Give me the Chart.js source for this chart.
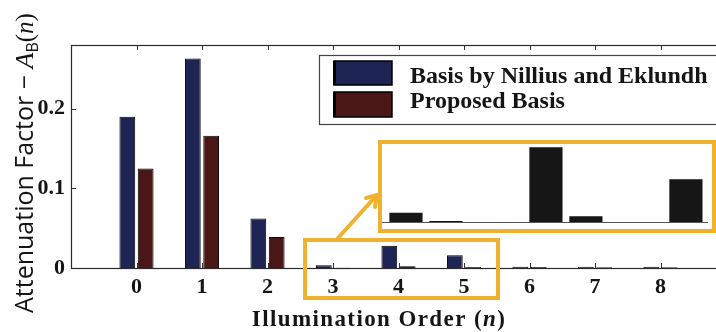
<!DOCTYPE html>
<html><head><meta charset="utf-8">
<script src="https://cdn.jsdelivr.net/npm/chart.js@4/dist/chart.umd.min.js"></script>
<style>
html,body{margin:0;padding:0;background:#fff;overflow:hidden;width:716px;height:332px;}
#wrap{position:relative;width:716px;height:332px;overflow:hidden;background:#fff;}
#main{position:absolute;left:0;top:0;}
#inset{position:absolute;left:378px;top:140px;}
</style></head><body>
<div id="wrap">
<canvas id="main" width="740" height="332"></canvas>
<canvas id="inset" width="338" height="94"></canvas>
</div>
<script>
// ---- data ----
const categories = [0, 1, 2, 3, 4, 5, 6, 7, 8];
const nilliusEklundh = [0.190, 0.263, 0.062, 0.0035, 0.028, 0.016, 0.0015, 0.0015, 0.0015];
const proposedBasis  = [0.125, 0.166, 0.039, 0.0004, 0.0022, 0.0012, 0.0012, 0.0010, 0.0010];
const yTicks = [0, 0.1, 0.2];
const seriesNames = ['Basis by Nillius and Eklundh', 'Proposed Basis'];
const zoomCategories = [3, 4, 5];

const BLUE = '#1e2555', RED = '#4a1616', YELLOW = '#efb22e', INK = '#151515';
const SERIF = '"Liberation Serif", "Times New Roman", serif';

function pts(vals){ return categories.map((c,i)=>({x:c, y:vals[i]})); }

const framePlugin = {
  id:'frame',
  beforeDatasetsDraw(chart){
    const {ctx, chartArea:a, scales:{x,y}} = chart;
    ctx.save();
    ctx.strokeStyle = '#333'; ctx.lineWidth = 1;
    ctx.beginPath();
    categories.forEach(c=>{
      const px = Math.round(x.getPixelForValue(c))+0.5;
      ctx.moveTo(px, a.bottom); ctx.lineTo(px, a.bottom-5);
      ctx.moveTo(px, a.top); ctx.lineTo(px, a.top+5);
    });
    yTicks.forEach(v=>{
      const py = Math.round(y.getPixelForValue(v))+0.5;
      ctx.moveTo(a.left, py); ctx.lineTo(a.left+5, py);
    });
    ctx.stroke();
    ctx.restore();
  },
  afterDatasetsDraw(chart){
    const {ctx, chartArea:a} = chart;
    ctx.save();
    ctx.strokeStyle = '#2a2a2a'; ctx.lineWidth = 1.2;
    ctx.strokeRect(Math.round(a.left)+0.5, Math.round(a.top)+0.5, Math.round(a.right-a.left), Math.round(a.bottom-a.top));
    ctx.restore();
  }
};

const overlayPlugin = {
  id:'overlay',
  afterDraw(chart){
    const {ctx} = chart;
    const ds = chart.data.datasets;
    ctx.save();
    // legend
    ctx.fillStyle = '#fff';
    ctx.fillRect(320, 56, 420, 68);
    ctx.strokeStyle = '#444'; ctx.lineWidth = 1.2;
    ctx.strokeRect(319.5, 55.5, 420, 69);
    const rows = [{y:61, h:24, base:83}, {y:92, h:25, base:108}];
    rows.forEach((r,i)=>{
      ctx.fillStyle = ds[i].backgroundColor;
      ctx.fillRect(334, r.y, 58, r.h);
      ctx.strokeStyle = '#000'; ctx.lineWidth = 1.5;
      ctx.strokeRect(334, r.y, 58, r.h);
      ctx.fillStyle = '#000'; ctx.fillRect(333, r.y, 3, r.h);
      ctx.fillStyle = INK;
      ctx.font = 'bold 24px ' + SERIF;
      ctx.textAlign = 'left'; ctx.textBaseline = 'alphabetic';
      ctx.fillText(ds[i].label, 410, r.base);
    });
    // small zoom box
    ctx.strokeStyle = YELLOW; ctx.lineWidth = 4;
    ctx.strokeRect(305, 240, 193, 58);
    // connector with arrow
    ctx.lineCap = 'round';
    ctx.beginPath(); ctx.moveTo(338, 238); ctx.lineTo(376, 196); ctx.stroke();
    ctx.beginPath(); ctx.moveTo(366, 198); ctx.lineTo(377, 195); ctx.lineTo(375, 207); ctx.stroke();
    // x title
    ctx.fillStyle = INK; ctx.textBaseline = 'alphabetic';
    if ('letterSpacing' in ctx) ctx.letterSpacing = '1.4px';
    const fB = 'bold 23px ' + SERIF, fI = 'italic bold 23px ' + SERIF;
    const p1 = 'Illumination Order (', p2 = 'n', p3 = ')';
    ctx.font = fB; const w1 = ctx.measureText(p1).width, w3 = ctx.measureText(p3).width;
    ctx.font = fI; const w2 = ctx.measureText(p2).width;
    let sx = 379 - (w1+w2+w3)/2;
    ctx.textAlign = 'left';
    ctx.font = fB; ctx.fillText(p1, sx, 326);
    ctx.font = fI; ctx.fillText(p2, sx+w1, 326);
    ctx.font = fB; ctx.fillText(p3, sx+w1+w2, 326);
    if ('letterSpacing' in ctx) ctx.letterSpacing = '0px';
    // y title
    ctx.translate(33, 313); ctx.rotate(-Math.PI/2);
    let cx = 0;
    const draw = (t, f, dy=0)=>{ ctx.font = f; ctx.fillText(t, cx, dy); cx += ctx.measureText(t).width; };
    draw('Attenuation Factor \u2212 ', '500 25px "Open Sans", sans-serif');
    draw('A', 'italic 26px ' + SERIF);
    draw('B', '500 16px "Open Sans", sans-serif', 5);
    draw('(', '25px ' + SERIF);
    draw('n', 'italic 25px ' + SERIF);
    draw(')', '25px ' + SERIF);
    ctx.restore();
  }
};

const mainChart = new Chart(document.getElementById('main'), {
  type:'bar',
  data:{datasets:[
    {label:seriesNames[0], data:pts(nilliusEklundh), backgroundColor:BLUE, borderColor:'#000', borderWidth:1, categoryPercentage:0.56, barPercentage:0.86},
    {label:seriesNames[1], data:pts(proposedBasis), backgroundColor:RED, borderColor:'#000', borderWidth:1, categoryPercentage:0.56, barPercentage:0.86}
  ]},
  options:{
    responsive:false, animation:false, devicePixelRatio:1,
    layout:{padding:{left:0, top:45, right:14, bottom:0}},
    plugins:{legend:{display:false}, tooltip:{enabled:false}},
    scales:{
      x:{type:'linear', min:-1, max:9, offset:false,
         afterFit(s){ s.height = 64; },
         afterBuildTicks(s){ s.ticks = categories.map(v=>({value:v})); },
         grid:{display:false, drawTicks:false, offset:false}, border:{display:false},
         ticks:{color:INK, padding:6, font:{family:SERIF, weight:'bold', size:22}, callback:v=>String(v), maxRotation:0, autoSkip:false}},
      y:{min:0, max:0.28,
         afterFit(s){ s.width = 71; },
         afterBuildTicks(s){ s.ticks = yTicks.map(v=>({value:v})); },
         grid:{display:false, drawTicks:false}, border:{display:false},
         ticks:{color:INK, padding:6, font:{family:SERIF, weight:'bold', size:22}, callback:v=> v===0 ? '0' : v.toFixed(1)}}
    }
  },
  plugins:[framePlugin, overlayPlugin]
});

// ---- zoomed inset (same data, categories 3..5) ----
const insetPlugin = {
  id:'insetFrame',
  beforeDatasetsDraw(chart){
    const {ctx, chartArea:a, scales:{y}} = chart;
    ctx.save();
    ctx.strokeStyle = '#555'; ctx.lineWidth = 1;
    const py = Math.round(y.getPixelForValue(0))+0.5;
    ctx.beginPath(); ctx.moveTo(a.left, py); ctx.lineTo(a.right, py); ctx.stroke();
    ctx.restore();
  },
  afterDraw(chart){
    const {ctx, width, height} = chart;
    ctx.save();
    ctx.strokeStyle = YELLOW; ctx.lineWidth = 4;
    ctx.strokeRect(2, 2, width-4, height-5);
    ctx.restore();
  }
};
const zoomMin = zoomCategories[0] - 0.314, zoomMax = zoomCategories[zoomCategories.length-1] + 0.015;
new Chart(document.getElementById('inset'), {
  type:'bar',
  data:{datasets:[
    {label:seriesNames[0], data:pts(nilliusEklundh), backgroundColor:'#161616', borderWidth:0, categoryPercentage:0.571, barPercentage:0.83},
    {label:seriesNames[1], data:pts(proposedBasis), backgroundColor:'#161616', borderWidth:0, categoryPercentage:0.571, barPercentage:0.83}
  ]},
  options:{
    responsive:false, animation:false, devicePixelRatio:1,
    layout:{padding:{left:4, right:8, top:2, bottom:12}},
    plugins:{legend:{display:false}, tooltip:{enabled:false}},
    scales:{
      x:{type:'linear', display:false, offset:false, min:zoomMin, max:zoomMax,
         afterBuildTicks(s){ s.ticks = zoomCategories.map(v=>({value:v})); }},
      y:{display:false, min:0, max:0.03}
    }
  },
  plugins:[insetPlugin]
});
</script>
</body></html>
